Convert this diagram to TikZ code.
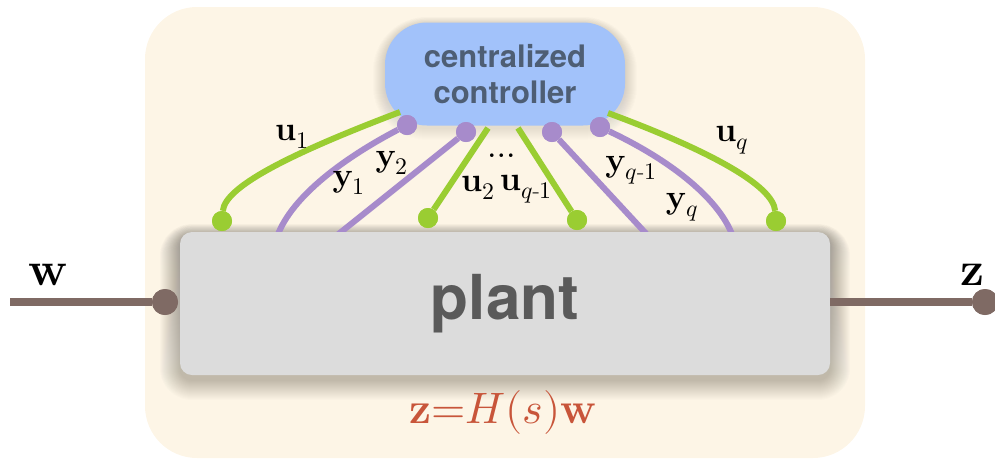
\documentclass[tikz,border=0pt]{standalone}
\usepackage{amsmath}
\usepackage{unicode-math}
\newfontfamily\helv{TeX Gyre Heros}
\usetikzlibrary{positioning,calc}
\definecolor{framebg}{HTML}{FDF5E6}
\definecolor{plantgray}{HTML}{DCDCDC}
\definecolor{plantfg}{HTML}{5A5A5A}
\definecolor{ctrlblue}{HTML}{A2C2FA}
\definecolor{ctrlfg}{HTML}{4E5E74}
\definecolor{ugreen}{HTML}{9ACD32}
\definecolor{ypurple}{HTML}{A78BCB}
\definecolor{sigbrown}{HTML}{7F6A64}
\definecolor{eqred}{HTML}{C8553A}
\definecolor{shade}{HTML}{6B5A3A}

\begin{document}
\begin{tikzpicture}[
  x=1pt, y=-1pt,
  frame/.style={fill=framebg, rounded corners=52pt, minimum width=720pt, minimum height=451pt},
  box/.style={fill=plantgray, rounded corners=12pt, minimum width=650pt, minimum height=143pt},
  ctrl/.style={fill=ctrlblue, rounded corners=42pt, minimum width=240pt, minimum height=103pt,
    align=center, text=ctrlfg, font=\helv\bfseries\fontsize{31}{36}\selectfont},
  uwire/.style={ugreen, line width=6pt},
  ywire/.style={ypurple, line width=6pt},
  sig/.style={sigbrown, line width=8pt},
  gdot/.style={circle, fill=ugreen, inner sep=0pt, minimum size=20pt},
  pdot/.style={circle, fill=ypurple, inner sep=0pt, minimum size=20pt},
  sdot/.style={circle, fill=sigbrown, inner sep=0pt, minimum size=26pt},
  lbl/.style={font=\fontsize{34}{40}\selectfont, inner sep=0pt}
]
\useasboundingbox (0,0) rectangle (995,459);
\node[frame] (fr) at (505,232.5) {};

% soft shadows
\foreach \s in {1,...,20}
  \fill[shade, opacity=0.011, rounded corners=12+\s] (180-\s,236-0.6*\s) rectangle (830+\s,380+\s);
\foreach \s in {1,...,12}
  \fill[shade, opacity=0.007, rounded corners=42+\s] (385-\s,24-0.6*\s) rectangle (625+\s,128+\s);

\node[ctrl] (ctrl) at (505,74) {centralized\\controller};

% wire ends on the controller side
\coordinate (u1c) at (400,112);
\coordinate (u2c) at (488,128);
\coordinate (uq1c) at (518,128);
\coordinate (uqc) at (608,113);
\node[pdot] (y1d) at (407,125) {};
\node[pdot] (y2d) at (466,132) {};
\node[pdot] (yq1d) at (552,132) {};
\node[pdot] (yqd) at (600,127) {};

% wire ends on the plant side
\node[gdot] (u1d) at (222,221) {};
\node[gdot] (u2d) at (428,218) {};
\node[gdot] (uq1d) at (577,220) {};
\node[gdot] (uqd) at (776,221) {};
\coordinate (y1p) at (276,240);
\coordinate (y2p) at (331,240);
\coordinate (yq1p) at (652,240);
\coordinate (yqp) at (734,240);

\draw[uwire] (u1c) .. controls (300,150) and (225,185) .. (u1d);
\draw[ywire] (y1d) .. controls (340,160) and (288,200) .. (y1p);
\draw[ywire] (y2d) -- (y2p);
\draw[uwire] (u2c) -- (u2d);
\draw[uwire] (uq1c) -- (uq1d);
\draw[ywire] (yq1d) -- (yq1p);
\draw[ywire] (yqd) .. controls (670,160) and (722,200) .. (yqp);
\draw[uwire] (uqc) .. controls (708,150) and (773,185) .. (uqd);
\node[pdot] at (y1d) {};
\node[pdot] at (y2d) {};
\node[pdot] at (yq1d) {};
\node[pdot] at (yqd) {};
\node[gdot] at (u1d) {};
\node[gdot] at (u2d) {};
\node[gdot] at (uq1d) {};
\node[gdot] at (uqd) {};

\node[box] (plant) at (505,303.5) {};
\node[font=\helv\bfseries\fontsize{62}{72}\selectfont, text=plantfg] (pl) at (plant) {plant};

% labels
\node[lbl] (lu1) at (292,137) {$\mathbf{u}_1$};
\node[lbl] (ly1) at (349,183) {$\mathbf{y}_1$};
\node[lbl] (ly2) at (392,163) {$\mathbf{y}_2$};
\node[lbl] (lu2) at (478,188) {$\mathbf{u}_2$};
\node[lbl] (ldots) at (505,156) {$\dots$};
\node[lbl] (luq1) at (526,189) {$\mathbf{u}_{q\text{-}1}$};
\node[lbl] (lyq1) at (631,170) {$\mathbf{y}_{q\text{-}1}$};
\node[lbl] (lyq) at (682,207) {$\mathbf{y}_q$};
\node[lbl] (luq) at (732,140) {$\mathbf{u}_q$};

% external signals
\coordinate (win) at (10,302);
\node[sdot] (wd) at (165,302) {};
\node[sdot] (zd) at (985,302) {};
\draw[sig] (win) -- (wd);
\draw[sig] (plant.east |- zd) -- (zd);
\node[sdot] at (wd) {};
\node[sdot] at (zd) {};
\node[font=\fontsize{48}{56}\selectfont, inner sep=0pt] (lw) at (48,275) {$\mathbf{w}$};
\node[font=\fontsize{48}{56}\selectfont, inner sep=0pt] (lz) at (972,275) {$\mathbf{z}$};

\node[font=\fontsize{44}{52}\selectfont, text=eqred] (eq) at (503,412) {$\mathbf{z}{=}H(s)\mathbf{w}$};
\end{tikzpicture}
\end{document}
